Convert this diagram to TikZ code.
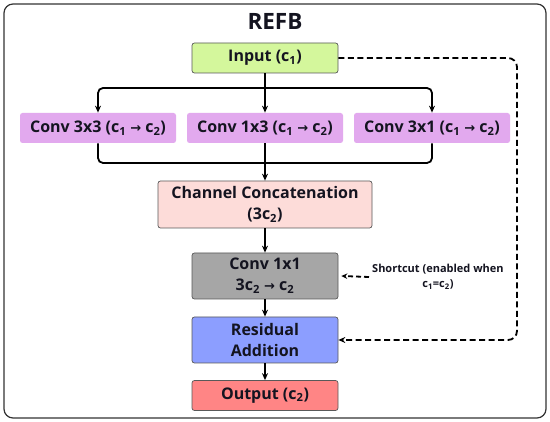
\documentclass[tikz,border=0pt]{standalone}
\usepackage{fontspec}
\setmainfont{Open Sans}
\newfontfamily\arrowfont{DejaVu Sans}
\usetikzlibrary{arrows.meta}
\definecolor{cinput}{HTML}{D4F79C}
\definecolor{cconv}{HTML}{E2A9EE}
\definecolor{cconcat}{HTML}{FDDCD9}
\definecolor{cgray}{HTML}{A6A6A6}
\definecolor{cblue}{HTML}{8C9EFF}
\definecolor{cout}{HTML}{FF8585}
\definecolor{ctext}{HTML}{141420}
\newcommand{\ra}{{\arrowfont\bfseries\fontsize{13}{13}\selectfont →}}
\newcommand{\sub}[1]{\textsubscript{#1}}
\tikzset{
  box/.style={draw=black!65, line width=0.7pt, rounded corners=2.5pt, align=center,
    font=\bfseries\fontsize{16}{21}\selectfont, text=ctext, inner sep=0pt},
  flow/.style={-{Stealth[length=7pt,width=6pt]}, line width=1.8pt},
  dflow/.style={-{Stealth[length=7pt,width=6pt]}, line width=1.8pt, dash pattern=on 6pt off 3.5pt},
  line/.style={line width=1.8pt, rounded corners=5pt}
}
\begin{document}
\begin{tikzpicture}[x=1pt,y=-1pt]
\useasboundingbox (0,0) rectangle (550,422);
\fill[white] (0,0) rectangle (550,422);
\draw[line width=1.2pt, rounded corners=9pt, draw=black!80] (4,4) rectangle (546,418);
\node[font=\bfseries\fontsize{22.5}{26}\selectfont, text=ctext] (title) at (275,21) {REFB};
\node[box, fill=cinput, minimum width=146pt, minimum height=30pt] (in) at (265,58) {Input (c\sub{1})};
\node[box, fill=cconv, draw=none, minimum width=156pt, minimum height=30pt] (c1) at (98,128) {Conv 3x3 (c\sub{1} \ra{} c\sub{2})};
\node[box, fill=cconv, draw=none, minimum width=156pt, minimum height=30pt] (c2) at (265,128) {Conv 1x3 (c\sub{1} \ra{} c\sub{2})};
\node[box, fill=cconv, draw=none, minimum width=156pt, minimum height=30pt] (c3) at (432,128) {Conv 3x1 (c\sub{1} \ra{} c\sub{2})};
\node[box, fill=cconcat, minimum width=214pt, minimum height=47pt] (cat) at (265,204.5) {Channel Concatenation\\(3c\sub{2})};
\node[box, fill=cgray, minimum width=146pt, minimum height=46pt] (k1) at (265,276) {Conv 1x1\\3c\sub{2} \ra{} c\sub{2}};
\node[box, fill=cblue, minimum width=146pt, minimum height=46pt] (res) at (265,340) {Residual\\Addition};
\node[box, fill=cout, minimum width=146pt, minimum height=30pt] (out) at (265,395.5) {Output (c\sub{2})};
\coordinate (split) at (265,88);
\coordinate (merge) at (265,163);
\draw[line width=1.8pt] (in.south) -- (split);
\draw[flow, rounded corners=5pt] (split) -| (c1.north);
\draw[flow, rounded corners=5pt] (split) -| (c3.north);
\draw[flow] (split) -- (c2.north);
\draw[line] (c1.south) |- (merge);
\draw[line] (c3.south) |- (merge);
\draw[line width=1.8pt] (c2.south) -- (merge);
\draw[flow] (merge) -- (cat.north);
\draw[flow] (cat.south) -- (k1.north);
\draw[flow] (k1.south) -- (res.north);
\draw[flow] (res.south) -- (out.north);
\coordinate (dc) at (517,58);
\draw[dflow, rounded corners=9pt] (in.east) -- (dc) |- (res.east);
\node[font=\bfseries\fontsize{11}{15}\selectfont, text=ctext, align=center, anchor=west, inner sep=0pt] (lbl) at (372,277) {Shortcut (enabled when\\c\sub{1}=c\sub{2})};
\draw[-{Stealth[length=6pt,width=5.5pt]}, line width=1.8pt, dash pattern=on 5pt off 3pt] ([xshift=-3pt]lbl.west) -- ([xshift=3pt]k1.east);
\end{tikzpicture}
\end{document}
